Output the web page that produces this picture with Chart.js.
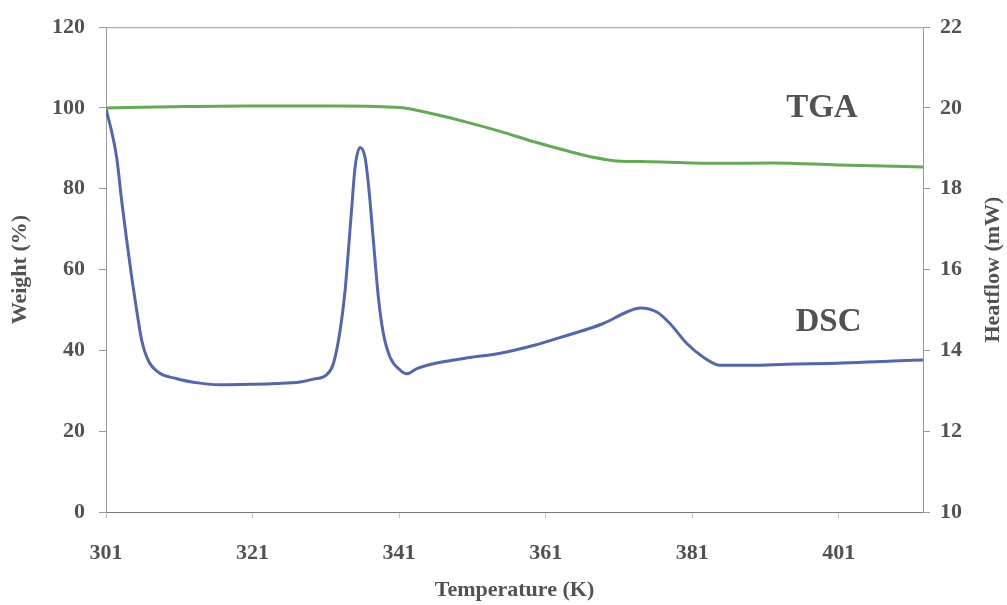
<!DOCTYPE html>
<html>
<head>
<meta charset="utf-8">
<title>TGA / DSC</title>
<script src="https://cdn.jsdelivr.net/npm/chart.js@4.4.1/dist/chart.umd.min.js"></script>
<style>
  html, body { margin:0; padding:0; background:#fff; }
  #wrap { width:1007px; height:605px; }
</style>
</head>
<body>
<div id="wrap"><canvas id="thermo" width="1007" height="605"></canvas></div>
<script>
const TEMP_TICKS = [301, 321, 341, 361, 381, 401];

// TGA run: temperature (K) -> weight (%)
const tgaTemp   = [301, 310, 320, 327.5, 333, 341.1, 345.7, 350.2, 354.8, 359.3, 363.9, 367.5, 370.7, 375.3, 384.8, 392.1, 400.8, 412.5];
const tgaWeight = [100, 100.3, 100.5, 100.5, 100.5, 100.1, 98.5, 96.5, 94.2, 91.7, 89.4, 87.8, 86.9, 86.7, 86.3, 86.4, 85.9, 85.4];

// DSC run: temperature (K) -> heat flow (mW)
const dscTemp = [301, 302.46, 303.14, 303.83, 304.51, 305.19, 305.87, 306.77, 308.14, 310.65, 313.83, 316.56, 320.66, 324.3, 327.48,
                 329.3, 331.13, 332.03, 332.95, 333.63, 334.08, 334.54, 334.99, 335.68, 336.36, 336.81, 337.49, 338.17, 338.86, 339.77,
                 341.14, 342.05, 343.42, 345.68, 349.78, 354.79, 359.33, 363.89, 368.79, 372.09, 373.9, 376.18, 377.99, 380.27, 382.54,
                 384.82, 389.33, 393.93, 400.75, 408.44, 412.5];
const dscHeat = [20.0, 18.77, 17.70, 16.72, 15.81, 14.99, 14.25, 13.75, 13.46, 13.30, 13.19, 13.15, 13.16, 13.18, 13.22,
                 13.29, 13.40, 13.67, 14.49, 15.48, 16.47, 17.54, 18.53, 19.02, 18.77, 18.12, 16.72, 15.32, 14.41, 13.83,
                 13.51, 13.42, 13.55, 13.67, 13.80, 13.93, 14.12, 14.37, 14.66, 14.95, 15.05, 14.95, 14.66, 14.17, 13.83,
                 13.63, 13.63, 13.66, 13.68, 13.74, 13.76];

// where the curve names sit (K, mW)
const LABEL_POS = { TGA: [398.7, 20.0], DSC: [399.6, 14.7] };

const serif = "'Liberation Serif', 'Times New Roman', serif";
const INK = '#525252';
const pts = (xs, ys) => xs.map((x, i) => ({ x, y: ys[i] }));

// frame on top, curve names and the right-hand title (reads bottom to top)
const extras = {
  id: 'extras',
  beforeDatasetsDraw(chart) {
    const { ctx, chartArea: a } = chart;
    ctx.save();
    ctx.strokeStyle = '#9a9a9a';
    ctx.lineWidth = 1;
    ctx.beginPath();
    ctx.moveTo(a.left, a.top + 0.5);
    ctx.lineTo(a.right, a.top + 0.5);
    ctx.stroke();
    ctx.restore();
  },
  afterDatasetsDraw(chart) {
    const { ctx, chartArea: a, scales: { x, yR } } = chart;
    ctx.save();
    ctx.fillStyle = INK;
    ctx.textAlign = 'center';
    ctx.textBaseline = 'middle';
    ctx.font = `bold 33px ${serif}`;
    Object.entries(LABEL_POS).forEach(([name, [t, h]]) => {
      ctx.fillText(name, x.getPixelForValue(t), yR.getPixelForValue(h));
    });
    ctx.font = `bold 22px ${serif}`;
    ctx.translate(993, (a.top + a.bottom) / 2);
    ctx.rotate(-Math.PI / 2);
    ctx.fillText('Heatflow (mW)', 0, 0);
    ctx.restore();
  }
};

new Chart(document.getElementById('thermo'), {
  type: 'line',
  data: {
    datasets: [
      { label: 'TGA', data: pts(tgaTemp, tgaWeight), yAxisID: 'yL', borderColor: '#66a857', borderWidth: 3,
        pointRadius: 0, cubicInterpolationMode: 'monotone', fill: false },
      { label: 'DSC', data: pts(dscTemp, dscHeat), yAxisID: 'yR', borderColor: '#5567ab', borderWidth: 3,
        pointRadius: 0, cubicInterpolationMode: 'monotone', fill: false }
    ]
  },
  options: {
    responsive: false,
    animation: false,
    layout: { padding: { top: 26, left: 0, right: 0, bottom: 0 } },
    plugins: { legend: { display: false }, tooltip: { enabled: false } },
    scales: {
      x: {
        type: 'linear', min: 301, max: 412.5,
        afterBuildTicks: s => { s.ticks = TEMP_TICKS.map(v => ({ value: v })); },
        afterFit: s => { s.height = 93; },
        grid: { drawOnChartArea: false, tickLength: 6, color: '#c4c4c4' },
        border: { color: '#7a7a7a' },
        ticks: { padding: 22, color: INK, font: { family: serif, size: 22, weight: 'bold' }, maxRotation: 0 },
        title: { display: true, text: 'Temperature (K)', color: INK, padding: { top: 0, bottom: 1 },
                 font: { family: serif, size: 22, weight: 'bold' } }
      },
      yL: {
        position: 'left', min: 0, max: 120,
        afterFit: s => { s.width = 106; },
        grid: { drawOnChartArea: false, tickLength: 7, color: '#9a9a9a' },
        border: { color: '#9a9a9a' },
        ticks: { stepSize: 20, padding: 14, color: INK, font: { family: serif, size: 22, weight: 'bold' } },
        title: { display: true, text: 'Weight (%)', color: INK, padding: { top: 7 },
                 font: { family: serif, size: 22, weight: 'bold' } }
      },
      yR: {
        position: 'right', min: 10, max: 22,
        afterFit: s => { s.width = 84; },
        grid: { drawOnChartArea: false, tickLength: 7, color: '#9a9a9a' },
        border: { color: '#9a9a9a' },
        ticks: { stepSize: 2, padding: 10, color: INK, font: { family: serif, size: 22, weight: 'bold' } }
      }
    }
  },
  plugins: [extras]
});
</script>
</body>
</html>
